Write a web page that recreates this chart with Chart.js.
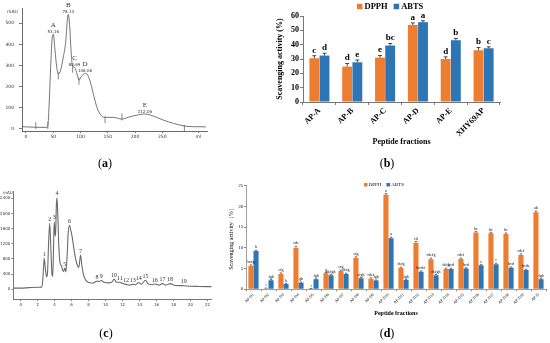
<!DOCTYPE html>
<html><head><meta charset="utf-8">
<script src="https://cdn.jsdelivr.net/npm/chart.js@4.4.0/dist/chart.umd.min.js"></script>
<style>
body{margin:0;background:#fff;}
#fig{position:relative;width:550px;height:343px;overflow:hidden;background:#fff}
canvas{position:absolute}
.lab{position:absolute;font-family:"Liberation Serif",serif;font-size:12px;transform:translate(-50%,-50%);white-space:nowrap;color:#000}
</style></head><body>
<div id="fig">
<canvas id="ca" width="275" height="170" style="left:0;top:0"></canvas>
<canvas id="cb" width="275" height="170" style="left:275px;top:0"></canvas>
<canvas id="cc" width="240" height="173" style="left:0;top:170px"></canvas>
<canvas id="cd" width="325" height="173" style="left:225px;top:170px"></canvas>
<div class="lab" style="left:105px;top:163px">(<b>a</b>)</div>
<div class="lab" style="left:387px;top:163px">(<b>b</b>)</div>
<div class="lab" style="left:106px;top:333px">(<b>c</b>)</div>
<div class="lab" style="left:387px;top:333px">(<b>d</b>)</div>
</div>
<script>
// ---------- (a) gel filtration chromatogram ----------
const aVolume = [-7, 0, 20, 38, 40, 42.8, 45.3, 47.7, 50.1, 53.2, 56.3, 59.3, 63.6, 68.5, 72.8, 75.8, 77.6, 80.2, 82.6, 85, 89, 94.2, 97.2, 102.2, 108.3, 113.2, 118.7, 124.8, 130.8, 138.9, 145, 160, 175.6, 190.8, 206, 218.3, 233.6, 252, 270, 290.5, 307, 330];
const aAbs = [11, 10, 8, 7.5, 12, 137, 294, 420, 448, 373, 294, 259, 278, 341, 410, 514, 542, 483, 373, 302, 292, 255, 231, 250, 263, 255, 216, 152, 98, 61, 55, 55, 47, 58, 67, 71, 61, 42, 27, 14, 11, 10];
const aPeakLetters = ['A', 'B', 'C', 'D', 'E'];
const aPeakValues = ['53.16', '78.13', '88.69', '108.06', '212.06'];
const aPeakVolume = [50.1, 77.6, 89, 108.3, 218.3];
const aPeakAbs = [448, 542, 292, 263, 71];
const aMarkVolume = [18, 40, 59.3, 85.5, 97.2, 145, 176, 290.5];
const aMarkAbs = [16, 17, 251, 283, 226, 44, 57, 3];
const aTicksX = [0, 50, 100, 150, 200, 250];
const aTicksY = [0, 100, 200, 300, 400, 500];
const aUnitX = 'ml', aUnitXAt = 316, aUnitY = 'mAU';

// ---------- (b) fractions A-E ----------
const bCategories = ['AP-A', 'AP-B', 'AP-C', 'AP-D', 'AP-E', 'XHY69AP'];
const bDPPH = [30.5, 24.7, 31.0, 53.8, 30.0, 36.1];
const bABTS = [32.4, 27.7, 39.4, 55.7, 43.1, 37.5];
const bDPPHErr = [1.8, 2.2, 1.4, 1.4, 1.5, 1.9];
const bABTSErr = [1.6, 1.6, 1.4, 1.0, 1.3, 1.0];
const bDPPHSig = ['c', 'd', 'e', 'a', 'd', 'b'];
const bABTSSig = ['d', 'e', 'bc', 'a', 'b', 'c'];

// ---------- (c) RP-HPLC chromatogram ----------
const cTime = [-0.87, 0, 1, 2, 2.4, 2.55, 2.7, 2.78, 2.9, 3.05, 3.15, 3.3, 3.42, 3.55, 3.68, 3.77, 3.85, 3.95, 4.05, 4.1, 4.2, 4.28, 4.38, 4.5, 4.65, 4.8, 4.95, 5.05, 5.2, 5.32, 5.45, 5.6, 5.75, 5.9, 6.05, 6.25, 6.45, 6.7, 6.85, 7.05, 7.2, 7.4, 7.7, 8.1, 8.5, 8.8, 9.0, 9.2, 9.5, 9.8, 10.4, 10.8, 11.0, 11.3, 11.7, 12.0, 12.4, 12.8, 13.2, 13.5, 13.9, 14.2, 14.7, 15.0, 15.5, 15.8, 16.3, 16.7, 17.1, 17.6, 18.2, 19.2, 20, 21, 22.5];
const cAbs = [30, 30, 45, 55, 50, 120, 600, 820, 560, 330, 400, 1300, 1740, 1100, 400, 340, 900, 1780, 1450, 1400, 2200, 2410, 1900, 1100, 680, 620, 500, 470, 560, 460, 800, 1500, 1690, 1560, 1400, 1100, 820, 620, 580, 900, 640, 380, 230, 175, 165, 200, 220, 200, 230, 185, 170, 200, 270, 185, 185, 150, 130, 110, 130, 120, 180, 130, 240, 150, 120, 140, 110, 150, 110, 150, 100, 95, 80, 75, 70];
const cPeakNames = ['1','2','3','4','5','6','7','8','9','10','11','12','13','14','15','16','17','18','19'];
const cPeakTime = [2.78, 3.42, 3.95, 4.28, 5.2, 5.75, 7.05, 9.0, 9.5, 11.0, 11.7, 12.4, 13.2, 13.9, 14.7, 15.8, 16.7, 17.6, 19.2];
const cPeakAbs = [820, 1740, 1780, 2410, 560, 1690, 900, 220, 230, 270, 185, 130, 130, 180, 240, 140, 150, 150, 95];
const cTicksX = [0, 2, 4, 6, 8, 10, 12, 14, 16, 18, 20, 22];
const cTicksY = [0, 400, 800, 1200, 1600, 2000, 2400];
const cUnitY = 'mAU';

// ---------- (d) sub-fractions of AP-D ----------
const dCategories = ['AP-D1','AP-D2','AP-D3','AP-D4','AP-D5','AP-D6','AP-D7','AP-D8','AP-D9','AP-D10','AP-D11','AP-D12','AP-D13','AP-D14','AP-D15','AP-D16','AP-D17','AP-D18','AP-D19','AP-D'];
const dDPPH = [5.6, 0.2, 3.7, 10.05, 0.1, 3.85, 4.4, 7.55, 2.57, 22.8, 5.15, 11.25, 7.25, 4.9, 7.3, 13.7, 13.5, 13.35, 8.3, 18.6];
const dABTS = [9.25, 2.2, 1.3, 1.6, 2.4, 3.4, 3.7, 2.65, 2.1, 12.3, 2.25, 4.25, 3.4, 4.9, 5.0, 5.8, 6.05, 5.2, 4.65, 2.4];
const dDPPHErr = [0.3, 0.1, 0.25, 0.35, 0.1, 0.2, 0.25, 0.3, 0.2, 0.3, 0.2, 0.3, 0.25, 0.2, 0.25, 0.25, 0.25, 0.25, 0.25, 0.3];
const dABTSErr = [0.2, 0.15, 0.15, 0.15, 0.15, 0.2, 0.2, 0.2, 0.15, 0.3, 0.15, 0.2, 0.2, 0.2, 0.2, 0.2, 0.25, 0.2, 0.2, 0.15];
const dDPPHSig = ['bcfg','i','efg','cde','i','g','efg','efg','cdef','a','defg','cd','cdefg','defg','cdef','bc','bc','bc','cdef','ab'];
const dABTSSig = ['b','fgh','h','gh','fgh','defgh','defg','efgh','fgh','a','fgh','bcdef','defgh','bcd','bcd','c','c','bcd','bcde','fgh'];

const ORANGE = '#ED7D31', BLUE = '#2E75B6';
const SERIF = '"Liberation Serif", "Times New Roman", serif';
const SANS = '"DejaVu Sans", sans-serif';

// ---------- plugins ----------
const barAnnot = {
  id: 'barAnnot',
  afterDatasetsDraw(chart, args, o) {
    const ctx = chart.ctx, ys = chart.scales.y;
    chart.data.datasets.forEach((ds, i) => {
      const meta = chart.getDatasetMeta(i);
      meta.data.forEach((el, j) => {
        const v = ds.data[j], e = ds.errors[j];
        const yt = ys.getPixelForValue(v + e);
        ctx.save();
        ctx.strokeStyle = o.errColor; ctx.lineWidth = o.errWidth;
        ctx.beginPath();
        ctx.moveTo(el.x, el.y); ctx.lineTo(el.x, yt);
        ctx.moveTo(el.x - o.cap, yt); ctx.lineTo(el.x + o.cap, yt);
        ctx.stroke();
        ctx.fillStyle = '#000'; ctx.font = o.font; ctx.textAlign = 'center'; ctx.textBaseline = 'bottom';
        ctx.fillText(ds.letters[j], el.x, yt - o.gap);
        ctx.restore();
      });
    });
  }
};
const boxLegend = {
  id: 'boxLegend',
  afterDraw(chart, args, o) {
    const ctx = chart.ctx;
    ctx.save(); ctx.font = o.font; ctx.textBaseline = 'middle'; ctx.textAlign = 'left';
    let x = o.x;
    chart.data.datasets.forEach(ds => {
      ctx.fillStyle = ds.backgroundColor; ctx.fillRect(x, o.y - o.box / 2, o.box, o.box);
      x += o.box + o.gap;
      ctx.fillStyle = '#000'; ctx.fillText(ds.label, x, o.y);
      x += ctx.measureText(ds.label).width + o.spacing;
    });
    ctx.restore();
  }
};
const peakText = {
  id: 'peakText',
  afterDatasetsDraw(chart, args, o) {
    const ctx = chart.ctx, xs = chart.scales.x, ys = chart.scales.y;
    ctx.save(); ctx.textAlign = 'center'; ctx.textBaseline = 'middle'; ctx.fillStyle = o.color;
    chart.data.datasets.forEach(ds => {
      if (!ds.peakLines) return;
      ds.data.forEach((p, j) => {
        const px = xs.getPixelForValue(p.x), py = ys.getPixelForValue(p.y);
        ds.peakLines.forEach(line => {
          ctx.font = line.font;
          ctx.fillText(line.text[j], px, py - line.dy);
        });
      });
    });
    const a = chart.chartArea;
    ctx.font = o.unitFont; ctx.fillStyle = '#333';
    ctx.fillText(o.unit, a.left + o.unitDx, a.top + o.unitDy);
    ctx.restore();
  }
};
const pts = (xs, ys) => xs.map((v, i) => ({x: v, y: ys[i]}));
const plain = v => String(v);
const common = {responsive: false, animation: false, events: []};

// ---------- chart (a) ----------
new Chart(document.getElementById('ca'), {
  type: 'line',
  data: {datasets: [
    {data: pts(aVolume, aAbs), borderColor: '#666', borderWidth: 0.9, pointRadius: 0, cubicInterpolationMode: 'monotone', fill: false},
    {data: pts(aMarkVolume, aMarkAbs), showLine: false, pointStyle: 'line', rotation: 90, pointRadius: 3.5, borderColor: '#666', borderWidth: 0.8},
    {data: pts(aPeakVolume, aPeakAbs), showLine: false, pointRadius: 0,
     peakLines: [{text: aPeakValues, font: '4px ' + SANS, dy: 2.5}, {text: aPeakLetters, font: '7px ' + SERIF, dy: 9}]}
  ]},
  options: Object.assign({}, common, {
    layout: {padding: {left: 0, right: 68, top: 8, bottom: 23}},
    plugins: {legend: {display: false}, tooltip: {enabled: false},
      peakText: {color: '#333', unit: aUnitY, unitFont: '4.5px ' + SANS, unitDx: -9.5, unitDy: 3.5}},
    scales: {
      x: {type: 'linear', min: -7.3, max: 332,
        afterFit(s) { s.height = 16; },
        afterBuildTicks(s) { s.ticks = aTicksX.concat([aUnitXAt]).map(v => ({value: v})); },
        ticks: {font: {family: SANS, size: 4.5}, color: '#333', padding: 1, maxRotation: 0, autoSkip: false,
          callback: v => v === aUnitXAt ? aUnitX : String(v)},
        grid: {drawOnChartArea: false, tickLength: 2, color: '#444', lineWidth: 0.7},
        border: {color: '#444', width: 0.8}},
      y: {min: -9.5, max: 572,
        afterFit(s) { s.width = 22; },
        afterBuildTicks(s) { s.ticks = aTicksY.map(v => ({value: v})); },
        ticks: {font: {family: SANS, size: 4.5}, color: '#333', padding: 5, callback: plain},
        grid: {drawOnChartArea: false, tickLength: 3, color: '#444', lineWidth: 0.7},
        border: {color: '#444', width: 0.8}}
    }
  }),
  plugins: [peakText]
});

// ---------- chart (b) ----------
new Chart(document.getElementById('cb'), {
  type: 'bar',
  data: {labels: bCategories, datasets: [
    {label: 'DPPH', data: bDPPH, backgroundColor: ORANGE, errors: bDPPHErr, letters: bDPPHSig},
    {label: 'ABTS', data: bABTS, backgroundColor: BLUE, errors: bABTSErr, letters: bABTSSig}
  ]},
  options: Object.assign({}, common, {
    layout: {padding: {left: 0, right: 50, top: 16, bottom: 0}},
    datasets: {bar: {categoryPercentage: 0.62, barPercentage: 0.97}},
    plugins: {legend: {display: false}, tooltip: {enabled: false},
      barAnnot: {errColor: '#222', errWidth: 0.8, cap: 2, gap: 1, font: 'bold 9px ' + SERIF},
      boxLegend: {x: 82, y: 6.5, box: 5.5, gap: 2, spacing: 6, font: 'bold 8.5px ' + SERIF}},
    scales: {
      x: {afterFit(s) { s.height = 68; },
        ticks: {font: {family: SERIF, size: 8, weight: 'bold'}, color: '#000', minRotation: 45, maxRotation: 45, padding: 1, autoSkip: false},
        grid: {drawOnChartArea: false, tickLength: 3, color: '#777'},
        border: {color: '#777', width: 1},
        title: {display: true, text: 'Peptide fractions', color: '#000', font: {family: SERIF, size: 8, weight: 'bold'}, padding: {top: 0, bottom: 23}}},
      y: {min: 0, max: 60,
        afterFit(s) { s.width = 28; },
        ticks: {stepSize: 10, font: {family: SERIF, size: 8, weight: 'bold'}, color: '#000', padding: 1},
        grid: {drawOnChartArea: false, tickLength: 3, color: '#777'},
        border: {color: '#777', width: 1},
        title: {display: true, text: 'Scavenging activity (%)', color: '#000', font: {family: SERIF, size: 8, weight: 'bold'}, padding: {top: 0, bottom: 0}}}
    }
  }),
  plugins: [barAnnot, boxLegend]
});

// ---------- chart (c) ----------
new Chart(document.getElementById('cc'), {
  type: 'line',
  data: {datasets: [
    {data: pts(cTime, cAbs), borderColor: '#6a6a6a', borderWidth: 1.1, pointRadius: 0, cubicInterpolationMode: 'monotone', fill: false},
    {data: pts(cPeakTime, cPeakAbs), showLine: false, pointRadius: 0,
     peakLines: [{text: cPeakNames, font: '6px ' + SERIF, dy: 4}]}
  ]},
  options: Object.assign({}, common, {
    layout: {padding: {left: 0, right: 28.3, top: 21.7, bottom: 33.7}},
    plugins: {legend: {display: false}, tooltip: {enabled: false},
      peakText: {color: '#333', unit: cUnitY, unitFont: '4px ' + SANS, unitDx: -5.5, unitDy: 1.5}},
    scales: {
      x: {type: 'linear', min: -0.87, max: 22.5,
        afterFit(s) { s.height = 10; },
        afterBuildTicks(s) { s.ticks = cTicksX.map(v => ({value: v})); },
        ticks: {font: {family: SANS, size: 4}, color: '#333', padding: 1, maxRotation: 0, autoSkip: false, callback: plain},
        grid: {drawOnChartArea: false, tickLength: 2, color: '#555', lineWidth: 0.7},
        border: {color: '#555', width: 0.8}},
      y: {min: -264, max: 2574,
        afterFit(s) { s.width = 13.3; },
        afterBuildTicks(s) { s.ticks = cTicksY.map(v => ({value: v})); },
        ticks: {font: {family: SANS, size: 4}, color: '#333', padding: 1, callback: plain},
        grid: {drawOnChartArea: false, tickLength: 2, color: '#555', lineWidth: 0.7},
        border: {color: '#555', width: 0.8}}
    }
  }),
  plugins: [peakText]
});

// ---------- chart (d) ----------
new Chart(document.getElementById('cd'), {
  type: 'bar',
  data: {labels: dCategories, datasets: [
    {label: 'DPPH', data: dDPPH, backgroundColor: ORANGE, errors: dDPPHErr, letters: dDPPHSig},
    {label: 'ABTS', data: dABTS, backgroundColor: BLUE, errors: dABTSErr, letters: dABTSSig}
  ]},
  options: Object.assign({}, common, {
    layout: {padding: {left: 0, right: 4, top: 15.7, bottom: 0}},
    datasets: {bar: {categoryPercentage: 0.68, barPercentage: 1}},
    plugins: {legend: {display: false}, tooltip: {enabled: false},
      barAnnot: {errColor: '#333', errWidth: 0.6, cap: 1.3, gap: 0.8, font: '4px ' + SERIF},
      boxLegend: {x: 139, y: 14.7, box: 3.5, gap: 1.2, spacing: 5, font: '5px ' + SERIF}},
    scales: {
      x: {afterFit(s) { s.height = 53.7; },
        ticks: {font: {family: SERIF, size: 4}, color: '#000', minRotation: 45, maxRotation: 45, padding: 1, autoSkip: false},
        grid: {drawOnChartArea: false, tickLength: 2, color: '#888'},
        border: {color: '#888', width: 0.8},
        title: {display: true, text: 'Peptide fractions', color: '#000', font: {family: SERIF, size: 6, weight: 'bold'}, padding: {top: 0, bottom: 26}}},
      y: {min: 0, max: 25,
        afterFit(s) { s.width = 21; },
        ticks: {stepSize: 5, font: {family: SERIF, size: 4.5}, color: '#000', padding: 1},
        grid: {drawOnChartArea: false, tickLength: 2, color: '#888'},
        border: {color: '#888', width: 0.8},
        title: {display: true, text: 'Scavenging activity（%）', color: '#000', font: {family: SERIF, size: 6}, padding: {top: 3, bottom: 0}}}
    }
  }),
  plugins: [barAnnot, boxLegend]
});
</script>
</body></html>
